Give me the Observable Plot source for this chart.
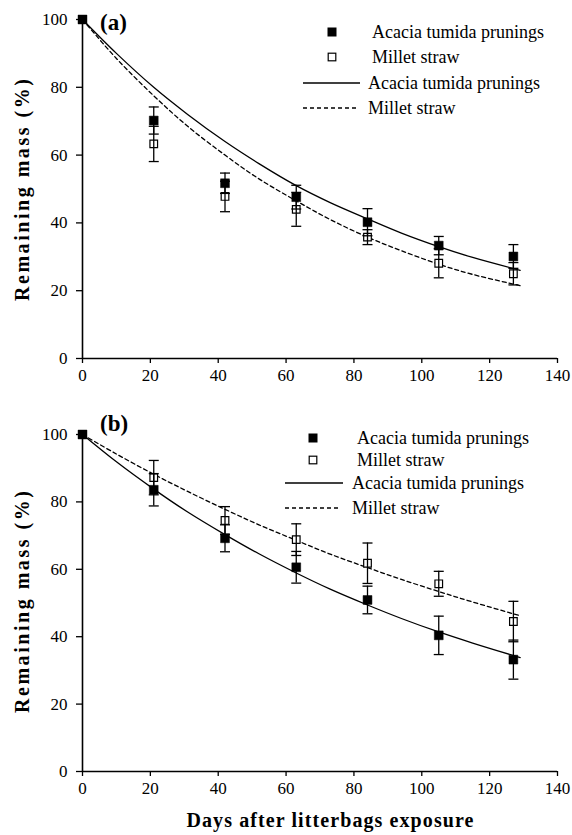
<!DOCTYPE html>
<html>
<head>
<meta charset="utf-8">
<script src="https://cdn.jsdelivr.net/npm/d3@7"></script>
<script src="https://cdn.jsdelivr.net/npm/@observablehq/plot@0.6"></script>
<style>
  body { margin: 0; background: white; }
  #wrap { width: 572px; }
  #wrap svg { display: block; }
  #wrap svg text { font-family: "Liberation Serif", "Times New Roman", serif; }
</style>
</head>
<body>
<div id="wrap"></div>
<script>
// ---- data ----
const days = [0, 21, 42, 63, 84, 105, 127];
const xTicks = [0, 20, 40, 60, 80, 100, 120, 140];
const yTicks = [0, 20, 40, 60, 80, 100];
const seriesNames = ["Acacia tumida prunings", "Millet straw"];

// Panel (a)
const aAcacia = [100, 70.2, 51.7, 47.6, 40.2, 33.3, 30.1];
const aAcaciaErr = [0, 4.0, 3.0, 3.5, 4.0, 2.7, 3.5];
const aMillet = [100, 63.3, 47.8, 44.0, 35.8, 28.1, 25.0];
const aMilletErr = [0, 5.2, 4.5, 5.0, 2.2, 4.3, 3.3];

// Panel (b)
const bAcacia = [100, 83.6, 69.2, 60.6, 50.9, 40.4, 33.2];
const bAcaciaErr = [0, 4.8, 4.0, 4.7, 4.1, 5.7, 5.8];
const bMillet = [100, 87.2, 74.5, 68.8, 61.8, 55.7, 44.5];
const bMilletErr = [0, 5.1, 4.1, 4.7, 6.0, 3.7, 6.0];

// Fitted curves
const curveDays = [0, 10, 21, 31, 42, 52, 63, 73, 84, 94, 105, 115, 129];
const aAcaciaFit = [100, 90, 80, 72, 64, 57.5, 51, 46, 41.2, 37, 33, 29.8, 26];
const aMilletFit = [100, 88.5, 77.5, 68.5, 60, 53, 46.5, 41, 35.8, 31.8, 27.8, 24.8, 21.5];
const bAcaciaFit = [100, 91.9, 83.8, 77, 70.3, 64.6, 58.9, 54.1, 49.4, 45.4, 41.4, 38.1, 33.8];
const bMilletFit = [100, 94.2, 88.2, 83.1, 77.8, 73.2, 68.6, 64.5, 60.5, 57, 53.4, 50.3, 46.2];

const capSymbol = { draw(ctx) { ctx.moveTo(-5, 0); ctx.lineTo(5, 0); } };
const SERIF = '"Liberation Serif", "Times New Roman", serif';

function panel(cfg) {
  const pts = (vals, errs, s) => days.map((d, i) => ({ day: d, v: vals[i], e: errs[i], s }));
  const ac = pts(cfg.acacia, cfg.acaciaErr, seriesNames[0]);
  const mi = pts(cfg.millet, cfg.milletErr, seriesNames[1]);
  const errs = [...mi, ...ac].filter(d => d.e > 0);
  const fitA = curveDays.map((d, i) => ({ day: d, v: cfg.acaciaFit[i] }));
  const fitM = curveDays.map((d, i) => ({ day: d, v: cfg.milletFit[i] }));

  const chart = Plot.plot({
    width: 572,
    height: cfg.height,
    marginTop: cfg.mt,
    marginBottom: cfg.mb,
    marginLeft: 82,
    marginRight: 15,
    style: { fontFamily: SERIF, fontSize: "17px", background: "white", color: "black" },
    x: { domain: [0, 140] },
    y: { domain: [0, 100] },
    marks: [
      Plot.axisX({ ticks: xTicks, tickSize: 5, tickPadding: 5, label: null, fontSize: 17, strokeWidth: 1.3 }),
      Plot.axisY({ ticks: yTicks, tickSize: 6, tickPadding: 9, label: null, fontSize: 17, strokeWidth: 1.3 }),
      Plot.ruleX([0], { stroke: "black", strokeWidth: 1.6 }),
      Plot.ruleY([0], { stroke: "black", strokeWidth: 1.6 }),
      Plot.line(fitA, { x: "day", y: "v", curve: "catmull-rom", stroke: "black", strokeWidth: 1.3 }),
      Plot.line(fitM, { x: "day", y: "v", curve: "catmull-rom", stroke: "black", strokeWidth: 1.3, strokeDasharray: "4,3" }),
      Plot.dot(mi, { x: "day", y: "v", symbol: "square", r: 4.3, fill: "white", stroke: "black", strokeWidth: 1.2 }),
      Plot.dot(ac, { x: "day", y: "v", symbol: "square", r: 5, fill: "black", stroke: "black", strokeWidth: 0.5 }),
      Plot.ruleX(errs, { x: "day", y1: d => d.v - d.e, y2: d => d.v + d.e, stroke: "black", strokeWidth: 1.3 }),
      Plot.dot(errs, { x: "day", y: d => d.v + d.e, symbol: capSymbol, r: 1, stroke: "black", strokeWidth: 1.3, fill: "none" }),
      Plot.dot(errs, { x: "day", y: d => d.v - d.e, symbol: capSymbol, r: 1, stroke: "black", strokeWidth: 1.3, fill: "none" })
    ]
  });

  const svg = d3.select(chart);
  const L = cfg.legend;
  const g = svg.append("g").attr("font-family", SERIF).attr("font-size", 18).attr("fill", "black").attr("text-anchor", "start");
  g.append("rect").attr("x", L.sqX - 4.5).attr("y", L.y1 - 4.5).attr("width", 9).attr("height", 9).attr("fill", "black");
  g.append("text").attr("x", L.txt1X).attr("y", L.y1).attr("dy", "0.35em").text(seriesNames[0]);
  g.append("rect").attr("x", L.sqX - 3.8).attr("y", L.y2 - 3.8).attr("width", 7.6).attr("height", 7.6).attr("fill", "white").attr("stroke", "black").attr("stroke-width", 1.2);
  g.append("text").attr("x", L.txt1X).attr("y", L.y2).attr("dy", "0.35em").text(seriesNames[1]);
  g.append("line").attr("x1", L.lnX1).attr("x2", L.lnX2).attr("y1", L.y3).attr("y2", L.y3).attr("stroke", "black").attr("stroke-width", 1.3);
  g.append("text").attr("x", L.txt2X).attr("y", L.y3).attr("dy", "0.35em").text(seriesNames[0]);
  g.append("line").attr("x1", L.lnX1).attr("x2", L.lnX2 - 3).attr("y1", L.y4).attr("y2", L.y4).attr("stroke", "black").attr("stroke-width", 1.3).attr("stroke-dasharray", "4,3");
  g.append("text").attr("x", L.txt2X).attr("y", L.y4).attr("dy", "0.35em").text(seriesNames[1]);

  svg.append("text").attr("x", 100).attr("y", cfg.tagY).attr("dy", "0.35em").attr("text-anchor", "start")
    .attr("font-family", SERIF).attr("font-weight", "bold").attr("font-size", 23)
    .text(cfg.tag);

  svg.append("text").attr("transform", `translate(22,${cfg.yTitleY}) rotate(-90)`)
    .attr("text-anchor", "middle").attr("dy", "0.35em")
    .attr("font-family", SERIF).attr("font-weight", "bold").attr("font-size", 20)
    .attr("textLength", 222).attr("lengthAdjust", "spacing")
    .text("Remaining mass (%)");

  if (cfg.xTitle) {
    svg.append("text").attr("x", 330).attr("y", cfg.xTitleY).attr("text-anchor", "middle")
      .attr("font-family", SERIF).attr("font-weight", "bold").attr("font-size", 20)
      .attr("textLength", 287).attr("lengthAdjust", "spacing")
      .text(cfg.xTitle);
  }
  return chart;
}

const wrap = document.getElementById("wrap");
wrap.appendChild(panel({
  height: 410, mt: 19, mb: 52,
  acacia: aAcacia, acaciaErr: aAcaciaErr, millet: aMillet, milletErr: aMilletErr,
  acaciaFit: aAcaciaFit, milletFit: aMilletFit,
  legend: { sqX: 332, txt1X: 372, lnX1: 303, lnX2: 360, txt2X: 368, y1: 32, y2: 57, y3: 83, y4: 108 },
  tag: "(a)", tagY: 22, yTitleY: 190
}));
wrap.appendChild(panel({
  height: 425, mt: 24, mb: 64,
  acacia: bAcacia, acaciaErr: bAcaciaErr, millet: bMillet, milletErr: bMilletErr,
  acaciaFit: bAcaciaFit, milletFit: bMilletFit,
  legend: { sqX: 313, txt1X: 357, lnX1: 285, lnX2: 343, txt2X: 352, y1: 28, y2: 50, y3: 73, y4: 98 },
  tag: "(b)", tagY: 13, yTitleY: 192,
  xTitle: "Days after litterbags exposure", xTitleY: 417
}));
</script>
</body>
</html>
